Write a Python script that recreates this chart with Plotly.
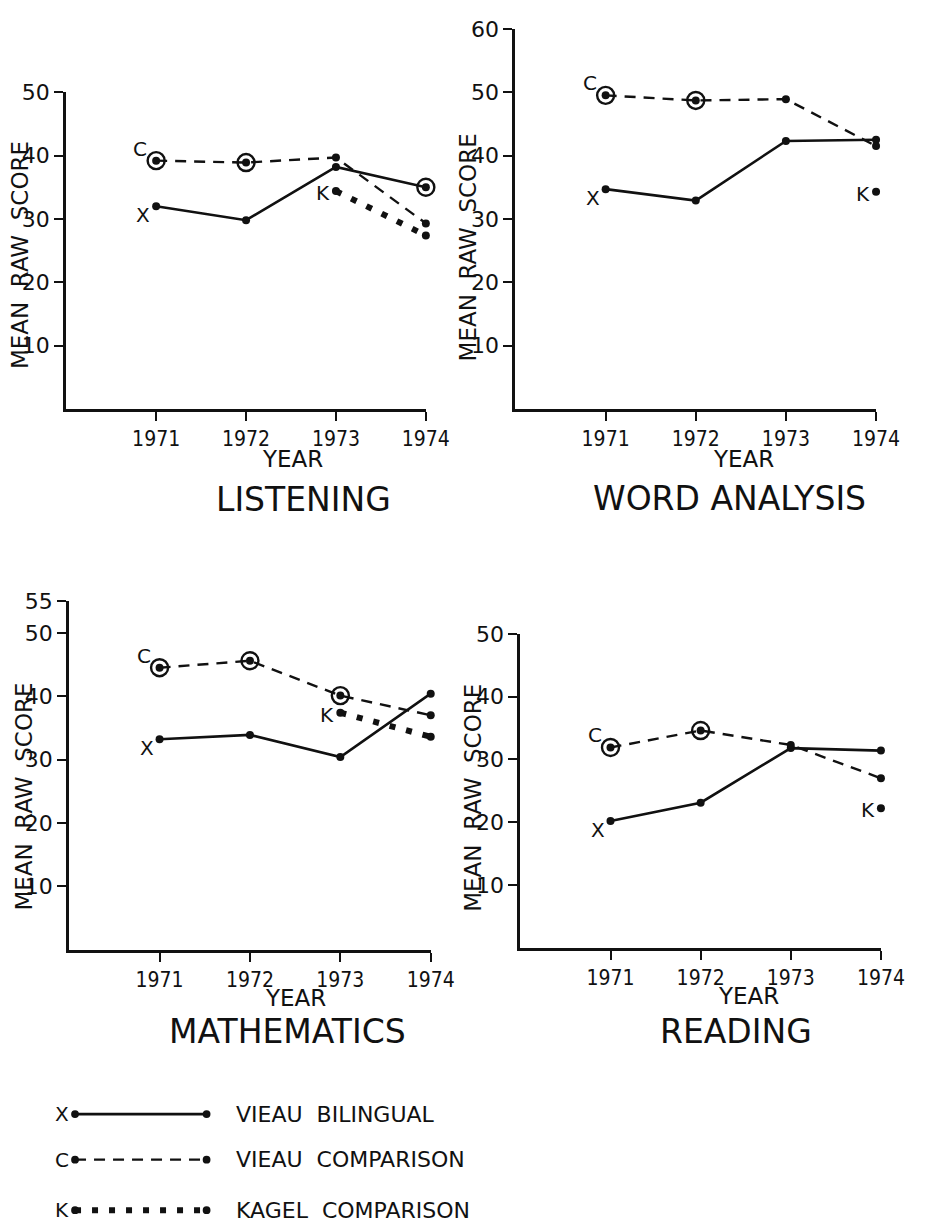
import plotly.graph_objects as go

# ---------------- data ----------------
years = [1971, 1972, 1973, 1974]
panel_titles = ["LISTENING", "WORD ANALYSIS", "MATHEMATICS", "READING"]

listening_bilingual = [32.0, 29.8, 38.2, 35.0]
listening_comparison = [39.2, 38.9, 39.7, 29.3]
listening_kagel = [None, None, 34.4, 27.4]

word_bilingual = [34.7, 32.9, 42.3, 42.5]
word_comparison = [49.5, 48.7, 48.9, 41.5]
word_kagel = [None, None, None, 34.3]

math_bilingual = [33.2, 33.9, 30.4, 40.4]
math_comparison = [44.5, 45.6, 40.1, 37.0]
math_kagel = [None, None, 37.4, 33.6]

reading_bilingual = [20.2, 23.1, 31.8, 31.4]
reading_comparison = [31.9, 34.6, 32.3, 27.0]
reading_kagel = [None, None, None, 22.2]

# points drawn with a ring around them in the original
listening_circled_bilingual = [False, False, False, True]
listening_circled_comparison = [True, True, False, False]
word_circled_bilingual = [False, False, False, False]
word_circled_comparison = [True, True, False, False]
math_circled_bilingual = [False, False, False, False]
math_circled_comparison = [True, True, True, False]
reading_circled_bilingual = [False, False, False, False]
reading_circled_comparison = [True, True, False, False]

listening_yticks = [10, 20, 30, 40, 50]
word_yticks = [10, 20, 30, 40, 50, 60]
math_yticks = [10, 20, 30, 40, 50, 55]
reading_yticks = [10, 20, 30, 40, 50]

legend_labels = ["VIEAU\u00a0\u00a0BILINGUAL", "VIEAU\u00a0\u00a0COMPARISON", "KAGEL\u00a0\u00a0COMPARISON"]
series_letters = ["X", "C", "K"]

# ---------------- layout geometry (pixels) ----------------
W, H = 940, 1224
INK = "#111111"
FONT = "DejaVu Sans, Liberation Sans, Arial"
NARROW = "DejaVu Sans Condensed, Liberation Sans Narrow, DejaVu Sans, Arial"

panels = [
    dict(bil=listening_bilingual, com=listening_comparison, kag=listening_kagel,
         cb=listening_circled_bilingual, cc=listening_circled_comparison,
         yt=listening_yticks, ymax=50,
         px=(68, 437), py=(81, 401), title_xy=(311, 492), year_xy=(300, 451), ytitle_xy=(20, 245)),
    dict(bil=word_bilingual, com=word_comparison, kag=word_kagel,
         cb=word_circled_bilingual, cc=word_circled_comparison,
         yt=word_yticks, ymax=60,
         px=(529, 899), py=(17, 401), title_xy=(749, 491), year_xy=(763, 451), ytitle_xy=(480, 238)),
    dict(bil=math_bilingual, com=math_comparison, kag=math_kagel,
         cb=math_circled_bilingual, cc=math_circled_comparison,
         yt=math_yticks, ymax=55,
         px=(71, 442), py=(595, 947), title_xy=(295, 1030), year_xy=(303, 996), ytitle_xy=(25, 792)),
    dict(bil=reading_bilingual, com=reading_comparison, kag=reading_kagel,
         cb=reading_circled_bilingual, cc=reading_circled_comparison,
         yt=reading_yticks, ymax=50,
         px=(534, 904), py=(628, 945), title_xy=(755, 1030), year_xy=(768, 994), ytitle_xy=(486, 794)),
]


def fx(px):
    return px / W


def fy(py):
    return 1 - py / H


fig = go.Figure()
annotations = []
shapes = []

for i, p in enumerate(panels, start=1):
    xa = "x" if i == 1 else f"x{i}"
    ya = "y" if i == 1 else f"y{i}"
    xkey = "xaxis" if i == 1 else f"xaxis{i}"
    ykey = "yaxis" if i == 1 else f"yaxis{i}"

    common = dict(xaxis=xa, yaxis=ya, showlegend=False, cliponaxis=False, hoverinfo="skip")

    # Vieau bilingual (solid)
    fig.add_trace(go.Scatter(x=years, y=p["bil"], mode="lines+markers",
                             line=dict(color=INK, width=2.6),
                             marker=dict(color=INK, size=8), **common))
    # Vieau comparison (dashed)
    fig.add_trace(go.Scatter(x=years, y=p["com"], mode="lines+markers",
                             line=dict(color=INK, width=2.4, dash="11px,8px"),
                             marker=dict(color=INK, size=8), **common))
    # Kagel comparison (heavy dots)
    kx = [yr for yr, v in zip(years, p["kag"]) if v is not None]
    ky = [v for v in p["kag"] if v is not None]
    fig.add_trace(go.Scatter(x=kx, y=ky, mode="lines+markers",
                             line=dict(color=INK, width=6, dash="6px,11px"),
                             marker=dict(color=INK, size=8), **common))
    # ringed points
    rx = [yr for yr, c in zip(years, p["cb"]) if c] + [yr for yr, c in zip(years, p["cc"]) if c]
    ry = [v for v, c in zip(p["bil"], p["cb"]) if c] + [v for v, c in zip(p["com"], p["cc"]) if c]
    fig.add_trace(go.Scatter(x=rx, y=ry, mode="markers",
                             marker=dict(symbol="circle-open", color=INK, size=17,
                                         line=dict(width=2.4, color=INK)), **common))

    # series letters next to the first point of each series
    annotations.append(dict(x=years[0], y=p["bil"][0], xref=xa, yref=ya, text="X",
                            showarrow=False, xshift=-13, yshift=-9,
                            font=dict(family=FONT, size=20, color=INK)))
    annotations.append(dict(x=years[0], y=p["com"][0], xref=xa, yref=ya, text="C",
                            showarrow=False, xshift=-16, yshift=12,
                            font=dict(family=FONT, size=20, color=INK)))
    annotations.append(dict(x=kx[0], y=ky[0], xref=xa, yref=ya, text="K",
                            showarrow=False, xshift=-13, yshift=-2,
                            font=dict(family=FONT, size=20, color=INK)))

    x0, x1 = p["px"]
    yt_, yb_ = p["py"]
    fig.layout[xkey] = dict(domain=[fx(x0), fx(x1)], range=[1970, 1974], anchor=ya,
                            showline=True, linecolor=INK, linewidth=3,
                            ticks="outside", ticklen=9, tickwidth=2.4, tickcolor=INK,
                            tickvals=years, ticktext=[str(y) for y in years],
                            tickfont=dict(family=NARROW, size=21, color=INK),
                            showgrid=False, zeroline=False, fixedrange=True)
    fig.layout[ykey] = dict(domain=[fy(yb_), fy(yt_)], range=[0, p["ymax"]], anchor=xa,
                            showline=True, linecolor=INK, linewidth=3,
                            ticks="outside", ticklen=9, tickwidth=2.4, tickcolor=INK,
                            tickvals=p["yt"], ticktext=[str(v) for v in p["yt"]],
                            tickfont=dict(family=FONT, size=22, color=INK),
                            showgrid=False, zeroline=False, fixedrange=True)

    tx, ty = p["title_xy"]
    annotations.append(dict(x=fx(tx), y=fy(ty), xref="paper", yref="paper",
                            text=panel_titles[i - 1], showarrow=False,
                            xanchor="center", yanchor="middle",
                            font=dict(family=FONT, size=33, color=INK)))
    ex, ey = p["year_xy"]
    annotations.append(dict(x=fx(ex), y=fy(ey), xref="paper", yref="paper",
                            text="YEAR", showarrow=False, xanchor="center", yanchor="middle",
                            font=dict(family=FONT, size=23, color=INK)))
    mx, my = p["ytitle_xy"]
    annotations.append(dict(x=fx(mx), y=fy(my), xref="paper", yref="paper",
                            text="MEAN\u00a0\u00a0RAW\u00a0\u00a0SCORE", showarrow=False,
                            textangle=-90, xanchor="center", yanchor="middle",
                            font=dict(family=FONT, size=23, color=INK)))

# ---------------- custom legend ----------------
leg_rows = [1113, 1159, 1210]
leg_x0, leg_x1 = 77, 212
styles = [dict(width=2.6, dash="solid"), dict(width=2.4, dash="11px,8px"), dict(width=6, dash="6px,11px")]
for row, st, lab, letter in zip(leg_rows, styles, legend_labels, series_letters):
    shapes.append(dict(type="line", xref="paper", yref="paper",
                       x0=fx(leg_x0), x1=fx(leg_x1), y0=fy(row), y1=fy(row),
                       line=dict(color=INK, width=st["width"], dash=st["dash"])))
    for cx in (leg_x0, leg_x1):
        shapes.append(dict(type="circle", xref="paper", yref="paper",
                           x0=fx(cx - 4), x1=fx(cx + 4), y0=fy(row + 4), y1=fy(row - 4),
                           fillcolor=INK, line=dict(color=INK, width=0)))
    annotations.append(dict(x=fx(leg_x0 - 4), y=fy(row), xref="paper", yref="paper", text=letter,
                            showarrow=False, xanchor="right", yanchor="middle",
                            font=dict(family=FONT, size=20, color=INK)))
    annotations.append(dict(x=fx(240), y=fy(row), xref="paper", yref="paper", text=lab,
                            showarrow=False, xanchor="left", yanchor="middle",
                            font=dict(family=FONT, size=22, color=INK)))

fig.update_layout(width=W, height=H, margin=dict(l=0, r=0, t=0, b=0),
                  paper_bgcolor="white", plot_bgcolor="white",
                  annotations=annotations, shapes=shapes)

fig.write_html("out.html", config={"displayModeBar": False})
